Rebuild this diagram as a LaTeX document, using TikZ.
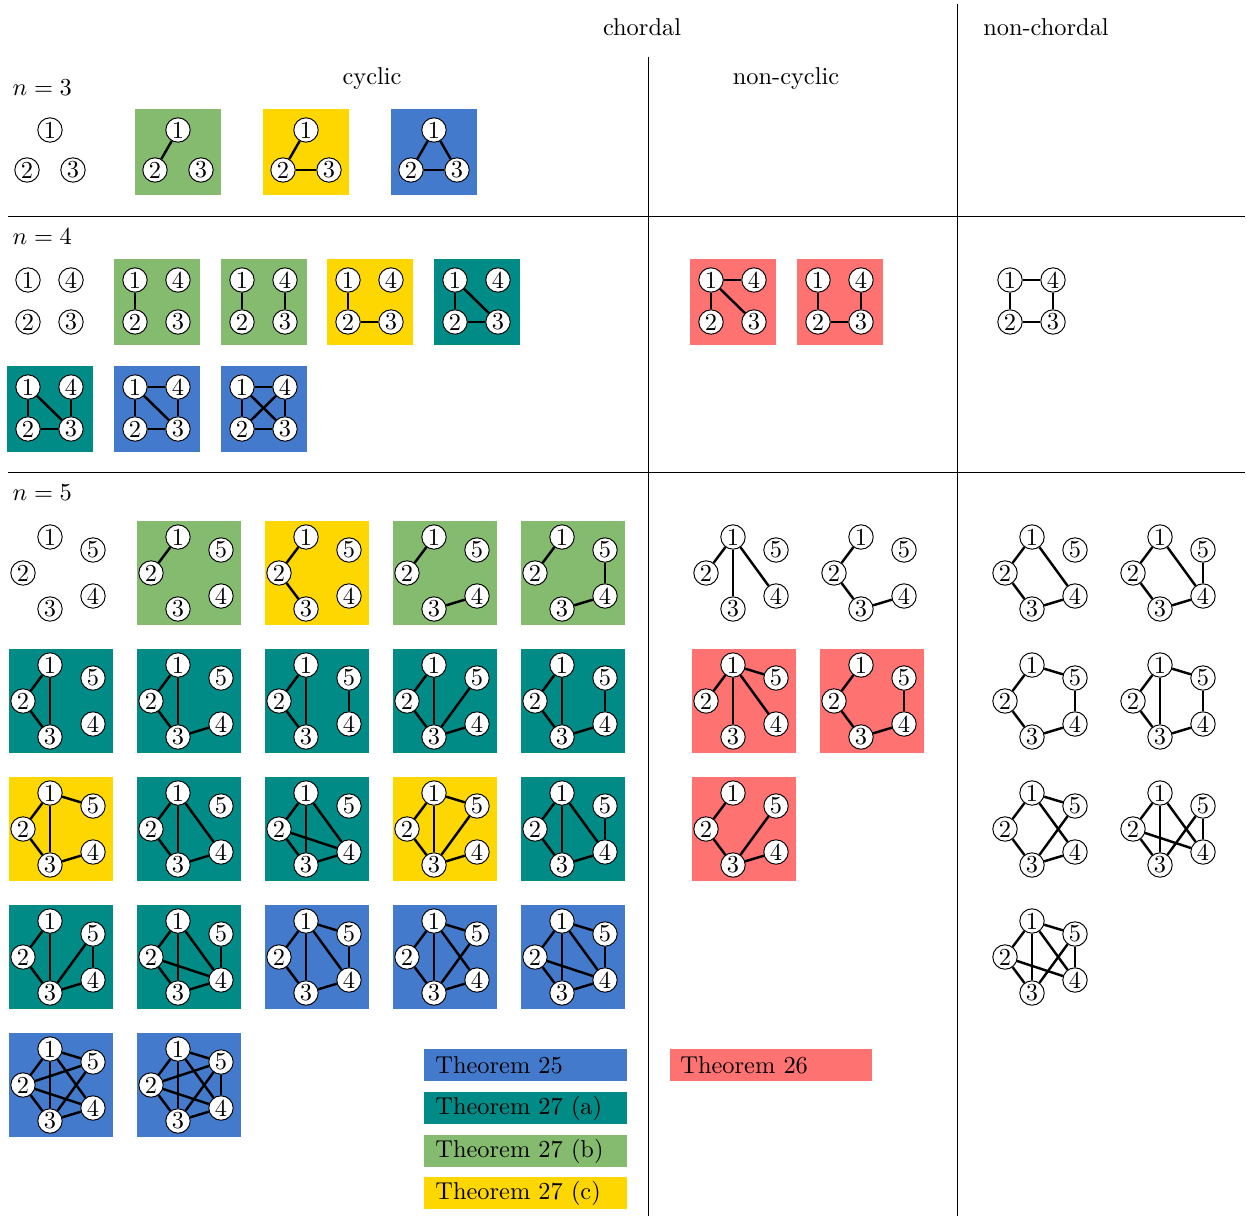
\documentclass[tikz,border=0pt]{standalone}
\usepackage{tikz}
\usetikzlibrary{positioning}

\definecolor{thmblue}{RGB}{67,122,204}
\definecolor{thmteal}{RGB}{0,139,134}
\definecolor{thmgreen}{RGB}{133,187,111}
\definecolor{thmyellow}{RGB}{255,215,0}
\definecolor{thmred}{RGB}{255,114,114}

% graph drawers: id, left, top, fill, edge list
\newcommand{\gthree}[5]{%
  \begin{scope}[shift={(#2,#3)}]
    \path[fill=#4] (0,0) rectangle (86,86);
    \node[vtx] (#1-1) at (43,21) {1};
    \node[vtx] (#1-2) at (20,61) {2};
    \node[vtx] (#1-3) at (66,61) {3};
    \foreach \a/\b in {#5} \draw[gedge] (#1-\a) -- (#1-\b);
  \end{scope}}
\newcommand{\gfour}[5]{%
  \begin{scope}[shift={(#2,#3)}]
    \path[fill=#4] (0,0) rectangle (86,86);
    \node[vtx] (#1-1) at (21,21) {1};
    \node[vtx] (#1-4) at (64,21) {4};
    \node[vtx] (#1-2) at (21,63) {2};
    \node[vtx] (#1-3) at (64,63) {3};
    \foreach \a/\b in {#5} \draw[gedge] (#1-\a) -- (#1-\b);
  \end{scope}}
\newcommand{\gfive}[5]{%
  \begin{scope}[shift={(#2,#3)}]
    \path[fill=#4] (0,0) rectangle (104,104);
    \node[vtx] (#1-1) at (41,16) {1};
    \node[vtx] (#1-5) at (84,29) {5};
    \node[vtx] (#1-2) at (14,52) {2};
    \node[vtx] (#1-3) at (41,88) {3};
    \node[vtx] (#1-4) at (84,75) {4};
    \foreach \a/\b in {#5} \draw[gedge] (#1-\a) -- (#1-\b);
  \end{scope}}

\begin{document}
\begin{tikzpicture}[x=0.41pt,y=-0.41pt]
  \tikzstyle{vtx}=[draw,circle,fill=white,thin,inner sep=0pt,minimum size=10pt]
  \tikzstyle{gedge}=[line width=1pt]
  \tikzstyle{rule}=[line width=0.4pt]
  \tikzstyle{legend}=[anchor=north west,inner xsep=4.5pt,inner ysep=0pt,text width=74pt,minimum height=13.5pt,align=left]
  \useasboundingbox (0,0) rectangle (1247,1216);

  % table
  \node (chordal) at (642,27) {chordal};
  \node (nonchordal) at (1046,27) {non-chordal};
  \node (cyclic) at (372,79) {cyclic};
  \node (noncyclic) at (786,79) {non-cyclic};
  \draw[rule] (957,4) -- (957,1216);
  \draw[rule] (648,57) -- (648,1216);
  \draw[rule] (8,216) -- (1245,216);
  \draw[rule] (8,472) -- (1245,472);
  \node[anchor=west] (nthree) at (4,88) {$n=3$};
  \node[anchor=west] (nfour) at (4,237) {$n=4$};
  \node[anchor=west] (nfive) at (4,493) {$n=5$};

  % n = 3
  \gthree{a}{7}{109}{none}{}
  \gthree{b}{135}{109}{thmgreen}{1/2}
  \gthree{c}{263}{109}{thmyellow}{1/2,2/3}
  \gthree{d}{391}{109}{thmblue}{1/2,1/3,2/3}

  % n = 4
  \gfour{e}{7}{259}{none}{}
  \gfour{f}{114}{259}{thmgreen}{1/2}
  \gfour{g}{221}{259}{thmgreen}{1/2,4/3}
  \gfour{h}{327}{259}{thmyellow}{1/2,2/3}
  \gfour{i}{434}{259}{thmteal}{1/2,1/3,2/3}
  \gfour{j}{7}{366}{thmteal}{1/2,1/3,2/3,4/3}
  \gfour{k}{114}{366}{thmblue}{1/4,1/2,1/3,2/3,4/3}
  \gfour{l}{221}{366}{thmblue}{1/4,1/2,1/3,2/4,2/3,4/3}
  \gfour{m}{690}{259}{thmred}{1/4,1/2,1/3}
  \gfour{o}{797}{259}{thmred}{1/2,2/3,4/3}
  \gfour{p}{989}{259}{none}{1/4,1/2,4/3,2/3}

  % n = 5, chordal and cyclic
  \gfive{q1}{9}{521}{none}{}
  \gfive{q2}{137}{521}{thmgreen}{1/2}
  \gfive{q3}{265}{521}{thmyellow}{1/2,2/3}
  \gfive{q4}{393}{521}{thmgreen}{1/2,3/4}
  \gfive{q5}{521}{521}{thmgreen}{1/2,3/4,5/4}
  \gfive{r1}{9}{649}{thmteal}{1/2,1/3,2/3}
  \gfive{r2}{137}{649}{thmteal}{1/2,1/3,2/3,3/4}
  \gfive{r3}{265}{649}{thmteal}{1/2,1/3,2/3,5/4}
  \gfive{r4}{393}{649}{thmteal}{1/2,1/3,2/3,3/5,3/4}
  \gfive{r5}{521}{649}{thmteal}{1/2,1/3,2/3,3/4,5/4}
  \gfive{s1}{9}{777}{thmyellow}{1/2,1/3,2/3,1/5,3/4}
  \gfive{s2}{137}{777}{thmteal}{1/2,1/3,2/3,1/4,3/4}
  \gfive{s3}{265}{777}{thmteal}{1/2,1/3,1/4,2/3,2/4,3/4}
  \gfive{s4}{393}{777}{thmyellow}{1/2,1/3,2/3,1/5,3/5,3/4}
  \gfive{s5}{521}{777}{thmteal}{1/2,1/3,2/3,1/4,3/4,5/4}
  \gfive{t1}{9}{905}{thmteal}{1/2,1/3,2/3,3/5,5/4,3/4}
  \gfive{t2}{137}{905}{thmteal}{1/2,1/3,1/4,2/4,2/3,3/4,5/4}
  \gfive{t3}{265}{905}{thmblue}{1/2,1/3,1/5,1/4,2/3,3/4,5/4}
  \gfive{t4}{393}{905}{thmblue}{1/2,1/3,1/5,1/4,2/3,3/5,3/4}
  \gfive{t5}{521}{905}{thmblue}{1/2,1/3,1/5,1/4,2/3,2/4,3/4,5/4}
  \gfive{u1}{9}{1033}{thmblue}{1/2,1/3,1/5,1/4,2/5,2/4,2/3,3/5,3/4}
  \gfive{u2}{137}{1033}{thmblue}{1/2,1/3,1/4,1/5,2/3,2/4,2/5,3/4,3/5,4/5}

  % n = 5, chordal, non-cyclic
  \gfive{v1}{692}{521}{none}{1/2,1/3,1/4}
  \gfive{v2}{820}{521}{none}{1/2,2/3,3/4}
  \gfive{v3}{692}{649}{thmred}{1/2,1/3,1/4,1/5}
  \gfive{v4}{820}{649}{thmred}{1/2,2/3,3/4,5/4}
  \gfive{v5}{692}{777}{thmred}{1/2,2/3,3/5,3/4}

  % n = 5, non-chordal
  \gfive{w1}{991}{521}{none}{1/2,2/3,3/4,1/4}
  \gfive{w2}{1119}{521}{none}{1/2,2/3,3/4,1/4,5/4}
  \gfive{w3}{991}{649}{none}{1/2,2/3,3/4,5/4,1/5}
  \gfive{w4}{1119}{649}{none}{1/2,2/3,3/4,5/4,1/5,1/3}
  \gfive{w5}{991}{777}{none}{1/2,1/5,1/4,2/3,3/5,3/4}
  \gfive{w6}{1119}{777}{none}{1/2,1/3,1/4,2/3,2/4,3/5,5/4}
  \gfive{w7}{991}{905}{none}{1/2,1/3,1/5,1/4,2/3,2/4,3/5,5/4}

  % legend
  \node[legend,fill=thmblue] (th25) at (424,1048) {Theorem 25};
  \node[legend,fill=thmteal] (th27a) at (424,1091) {Theorem 27 (a)};
  \node[legend,fill=thmgreen] (th27b) at (424,1134) {Theorem 27 (b)};
  \node[legend,fill=thmyellow] (th27c) at (424,1176) {Theorem 27 (c)};
  \node[legend,fill=thmred] (th26) at (669,1048) {Theorem 26};
\end{tikzpicture}
\end{document}
